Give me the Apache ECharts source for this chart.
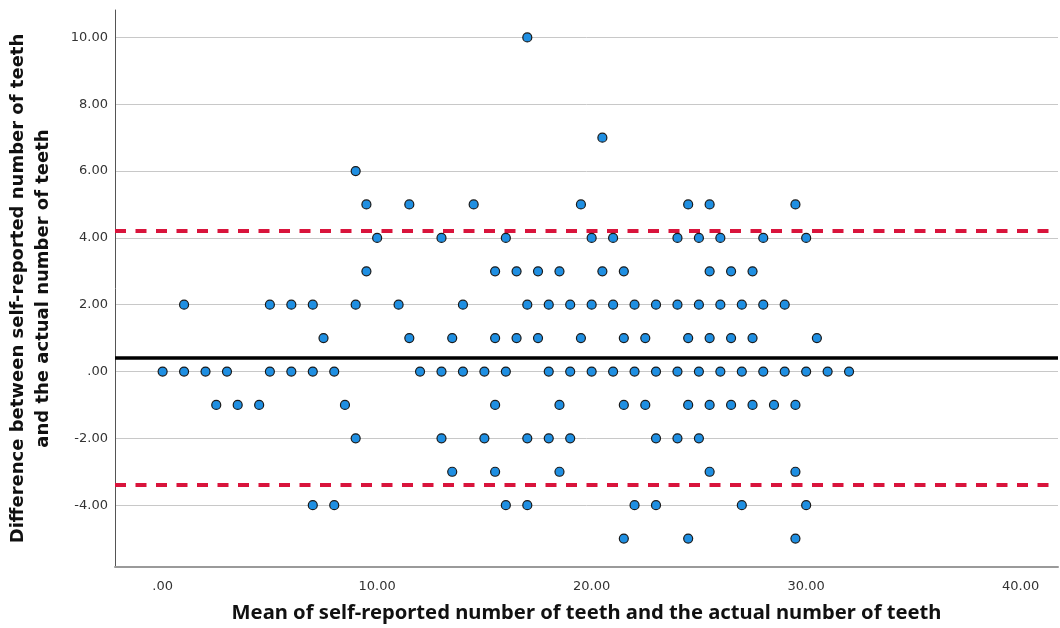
<!DOCTYPE html>
<html>
<head>
<meta charset="utf-8">
<script src="https://cdn.jsdelivr.net/npm/echarts@6/dist/echarts.min.js"></script>
<style>
html,body{margin:0;padding:0;background:#fff;}
#chart{width:1060px;height:628px;}
</style>
</head>
<body>
<div id="chart"></div>
<script>
// Difference levels (y) and the mean values (x) of the points at each level
const diffLevels = [10, 7, 6, 5, 4, 3, 2, 1, 0, -1, -2, -3, -4, -5];
const meansAtDiff10 = [17];
const meansAtDiff7 = [20.5];
const meansAtDiff6 = [9];
const meansAtDiff5 = [9.5, 11.5, 14.5, 19.5, 24.5, 25.5, 29.5];
const meansAtDiff4 = [10, 13, 16, 20, 21, 24, 25, 26, 28, 30];
const meansAtDiff3 = [9.5, 15.5, 16.5, 17.5, 18.5, 20.5, 21.5, 25.5, 26.5, 27.5];
const meansAtDiff2 = [1, 5, 6, 7, 9, 11, 14, 17, 18, 19, 20, 21, 22, 23, 24, 25, 26, 27, 28, 29];
const meansAtDiff1 = [7.5, 11.5, 13.5, 15.5, 16.5, 17.5, 19.5, 21.5, 22.5, 24.5, 25.5, 26.5, 27.5, 30.5];
const meansAtDiff0 = [0, 1, 2, 3, 5, 6, 7, 8, 12, 13, 14, 15, 16, 18, 19, 20, 21, 22, 23, 24, 25, 26, 27, 28, 29, 30, 31, 32];
const meansAtDiffM1 = [2.5, 3.5, 4.5, 8.5, 15.5, 18.5, 21.5, 22.5, 24.5, 25.5, 26.5, 27.5, 28.5, 29.5];
const meansAtDiffM2 = [9, 13, 15, 17, 18, 19, 23, 24, 25];
const meansAtDiffM3 = [13.5, 15.5, 18.5, 25.5, 29.5];
const meansAtDiffM4 = [7, 8, 16, 17, 22, 23, 27, 30];
const meansAtDiffM5 = [21.5, 24.5, 29.5];
const meansByLevel = [meansAtDiff10, meansAtDiff7, meansAtDiff6, meansAtDiff5, meansAtDiff4, meansAtDiff3,
  meansAtDiff2, meansAtDiff1, meansAtDiff0, meansAtDiffM1, meansAtDiffM2, meansAtDiffM3, meansAtDiffM4, meansAtDiffM5];

// Bland-Altman reference lines
const meanDifference = 0.42;
const upperLimit = 4.22;
const lowerLimit = -3.39;

// Tick labels
const xTickValues = [0, 10, 20, 30, 40];
const yTickValues = [-4, -2, 0, 2, 4, 6, 8, 10];

const points = [];
diffLevels.forEach((d, i) => meansByLevel[i].forEach(m => points.push([m, d])));

const fmt = v => (v === 0 ? '.00' : v.toFixed(2));

const chart = echarts.init(document.getElementById('chart'), null, {renderer: 'canvas'});
chart.setOption({
  animation: false,
  backgroundColor: '#ffffff',
  grid: {left: 115, right: 2, top: 10, bottom: 61, outerBoundsMode: 'none', containLabel: false},
  xAxis: {
    type: 'value',
    min: -2.22,
    max: 41.74,
    name: 'Mean of self-reported number of teeth and the actual number of teeth',
    nameLocation: 'middle',
    nameGap: 36,
    nameTextStyle: {fontFamily: 'Noto Sans', fontWeight: 'bold', fontSize: 20.2, color: '#111', verticalAlign: 'top'},
    axisLine: {show: true, onZero: false, lineStyle: {color: '#9a9a9a', width: 2}},
    axisTick: {show: false, customValues: xTickValues},
    splitLine: {show: false},
    axisLabel: {customValues: xTickValues, formatter: fmt, margin: 13, fontFamily: 'DejaVu Sans', fontSize: 13, color: '#333'}
  },
  yAxis: {
    type: 'value',
    min: -5.85,
    max: 10.82,
    name: 'Difference between self-reported number of teeth\nand the actual number of teeth',
    nameLocation: 'middle',
    nameGap: 59,
    nameTextStyle: {fontFamily: 'DejaVu Sans', fontWeight: 'bold', fontSize: 18, lineHeight: 25, color: '#111', align: 'center'},
    axisLine: {show: true, onZero: false, lineStyle: {color: '#555', width: 1}},
    axisTick: {show: false, customValues: yTickValues},
    splitLine: {show: true, lineStyle: {color: '#c8c8c8', width: 1}},
    axisLabel: {customValues: yTickValues, formatter: fmt, margin: 7, fontFamily: 'DejaVu Sans', fontSize: 13, color: '#333'}
  },
  series: [
    {
      type: 'scatter',
      data: points,
      symbol: 'circle',
      symbolSize: 9,
      itemStyle: {color: '#1f8fe2', borderColor: '#1a1a1a', borderWidth: 1.2, opacity: 1},
      z: 5,
      markLine: {
        silent: true,
        symbol: ['none', 'none'],
        label: {show: false},
        animation: false,
        data: [
          {yAxis: meanDifference, lineStyle: {color: '#000', width: 3.5, type: 'solid'}},
          {yAxis: upperLimit, lineStyle: {color: '#d9143c', width: 4, type: [11, 9.5]}},
          {yAxis: lowerLimit, lineStyle: {color: '#d9143c', width: 4, type: [11, 9.5]}}
        ]
      }
    }
  ]
});
</script>
</body>
</html>
